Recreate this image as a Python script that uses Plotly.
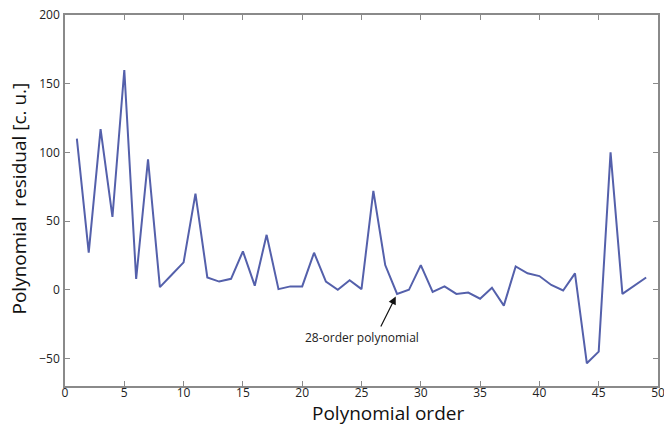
import plotly.graph_objects as go

orders = list(range(1, 50))
residuals = [110, 27, 117, 53, 160, 8, 95, 2, 11, 20,
             70, 9, 6, 8, 28, 3, 40, 0.5, 2.5, 2.5,
             27, 6, 0, 7, 0.5, 72, 18, -3, 0, 18,
             -1.5, 2.5, -3, -2, -6.5, 1.5, -11.5, 17, 12, 10,
             3.5, -0.5, 12, -53.5, -45, 100, -3, 3, 9]
x_ticks = [0, 5, 10, 15, 20, 25, 30, 35, 40, 45, 50]
y_ticks = [-50, 0, 50, 100, 150, 200]

fig = go.Figure()
fig.add_trace(go.Scatter(x=orders, y=residuals, mode="lines",
                         line=dict(color="#5460ab", width=2), showlegend=False))

fig.add_annotation(x=28, y=-3, ax=-17, ay=34, axref="pixel", ayref="pixel",
                   text="", showarrow=True, arrowhead=2, arrowsize=1.3, arrowwidth=1.2,
                   arrowcolor="#111", standoff=3)
fig.add_annotation(x=28, y=-3, text="28-order polynomial", showarrow=False,
                   xshift=-35, yshift=-44, font=dict(size=12, color="#222"))

fig.add_annotation(x=27.2, y=0, xref="x", yref="paper", yshift=-27, yanchor="middle",
                   text="Polynomial order", showarrow=False,
                   font=dict(size=19, color="#111"))
fig.add_annotation(x=0, y=0.5, xref="paper", yref="paper", xshift=-47, yshift=2,
                   xanchor="center", yanchor="middle", textangle=-90,
                   text="Polynomial  residual [c. u.]", showarrow=False,
                   font=dict(size=19, color="#111"))

axis_common = dict(showline=True, linecolor="#8a8a8a", linewidth=1.5, mirror="ticks",
                   ticks="inside", ticklen=5, tickcolor="#8a8a8a", tickwidth=1.2,
                   showgrid=False, zeroline=False, automargin=False,
                   ticklabeloverflow="allow",
                   tickfont=dict(size=12, color="#222"))

fig.update_xaxes(range=[0, 50], tickvals=x_ticks, ticklabelstandoff=-5, **axis_common)
fig.update_yaxes(range=[-70, 200], tickvals=y_ticks, ticklabelstandoff=1, **axis_common)

fig.update_layout(width=664, height=426, margin=dict(l=65, r=6, t=15, b=40),
                  paper_bgcolor="white", plot_bgcolor="white",
                  font=dict(family="Open Sans, sans-serif"))
fig.write_html("out.html", config={"displayModeBar": False},
               post_script="document.body.style.margin='0';document.body.style.overflow='hidden';")
